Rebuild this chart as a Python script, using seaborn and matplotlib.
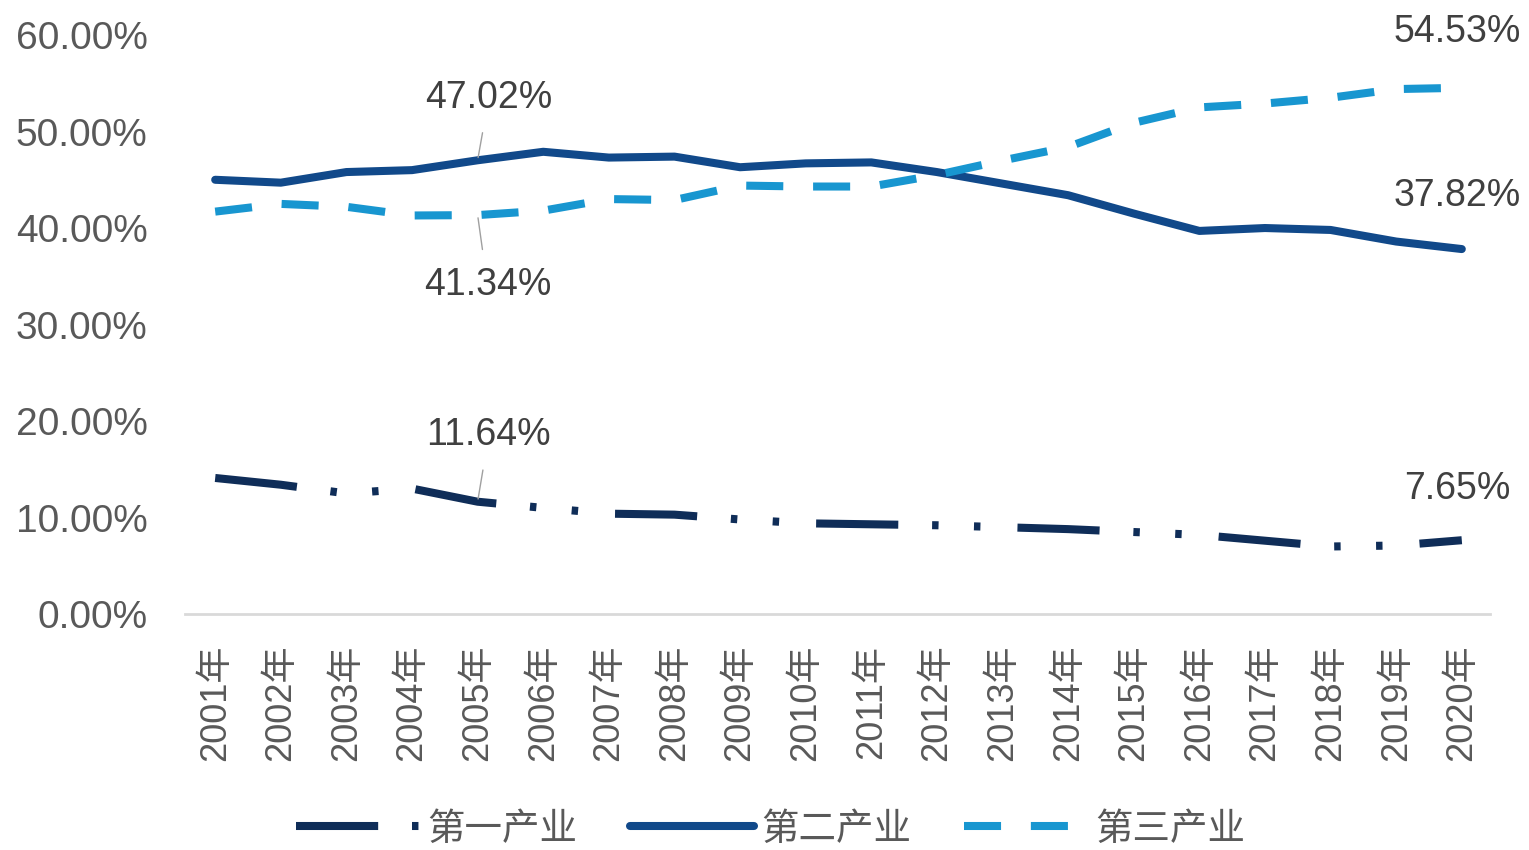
import pandas as pd
import numpy as np
import seaborn as sns
import matplotlib.pyplot as plt

# chart data: share of GDP by industry, 2001-2020
years = [f"{y}年" for y in range(2001, 2021)]
primary = [14.1, 13.4, 12.5, 13.0, 11.64, 11.0, 10.4, 10.3, 9.8, 9.4,
           9.3, 9.2, 9.0, 8.8, 8.5, 8.2, 7.6, 7.0, 7.1, 7.65]
secondary = [45.0, 44.7, 45.8, 46.0, 47.02, 47.9, 47.3, 47.4, 46.3, 46.7,
             46.8, 45.8, 44.6, 43.4, 41.5, 39.7, 40.0, 39.8, 38.6, 37.82]
tertiary = [41.7, 42.5, 42.2, 41.3, 41.34, 41.8, 43.0, 42.9, 44.4, 44.3,
            44.3, 45.5, 47.0, 48.4, 50.9, 52.5, 52.9, 53.5, 54.4, 54.53]
names = ["第一产业", "第二产业", "第三产业"]

df = pd.DataFrame({"year": years * 3,
                   "value": primary + secondary + tertiary,
                   "industry": np.repeat(names, len(years))})

sns.set_theme(style="white")
plt.rcParams['font.family'] = ['Liberation Sans', 'Noto Sans CJK SC']

colors = {"第一产业": "#0f2d58", "第二产业": "#11498a", "第三产业": "#1896d0"}
dash_map = {"第一产业": (10.2, 4.2, 0.8, 4.4, 0.8, 4.6),
            "第二产业": "",
            "第三产业": (4.6, 3.7)}

fig = plt.figure(figsize=(15.29, 8.5), dpi=100)
ax = fig.add_axes([0.121, 0.2776, 0.8535, 0.6812])

sns.lineplot(data=df, x="year", y="value", hue="industry", style="industry",
             hue_order=names, style_order=names, palette=colors,
             dashes=dash_map, linewidth=5.8, sort=False, ax=ax)

ax.set_xlim(-0.46, 19.43)
ax.set_ylim(0, 60)
ax.set_yticks(range(0, 61, 10))
ax.set_yticklabels([f"{v:.2f}%" for v in range(0, 61, 10)])
ax.tick_params(axis='y', labelsize=28, colors='#595959', pad=27, length=0)
ax.tick_params(axis='x', labelsize=26, colors='#595959', pad=22, length=0,
               labelrotation=90)
ax.set_xlabel("")
ax.set_ylabel("")
for s in ["top", "right", "left"]:
    ax.spines[s].set_visible(False)
ax.spines["bottom"].set_color("#d9d9d9")
ax.spines["bottom"].set_linewidth(2)
ax.grid(False)

# value labels
lab_kw = dict(textcoords='offset points', ha='center', va='center',
              fontsize=27, color='#404040')
lead = dict(arrowstyle='-', color='#a0a0a0', lw=1, shrinkA=10, shrinkB=2)
ax.annotate(f"{secondary[4]:.2f}%", xy=(4, secondary[4]), xytext=(8, 45),
            arrowprops=lead, **lab_kw)
ax.annotate(f"{tertiary[4]:.2f}%", xy=(4, tertiary[4]), xytext=(7, -50),
            arrowprops=lead, **lab_kw)
ax.annotate(f"{primary[4]:.2f}%", xy=(4, primary[4]), xytext=(8, 48),
            arrowprops=lead, **lab_kw)
ax.annotate(f"{tertiary[-1]:.2f}%", xy=(19, tertiary[-1]), xytext=(-3, 40), **lab_kw)
ax.annotate(f"{secondary[-1]:.2f}%", xy=(19, secondary[-1]), xytext=(-3, 38), **lab_kw)
ax.annotate(f"{primary[-1]:.2f}%", xy=(19, primary[-1]), xytext=(-3, 37), **lab_kw)

sns.move_legend(ax, "center", bbox_to_anchor=(0.504, 0.024),
                bbox_transform=fig.transFigure, ncol=3, frameon=False,
                title=None, fontsize=27, handlelength=3.3,
                handletextpad=0.2, columnspacing=1.4)
for t in ax.get_legend().get_texts():
    t.set_color('#595959')

fig.savefig("out.png", dpi=100)
